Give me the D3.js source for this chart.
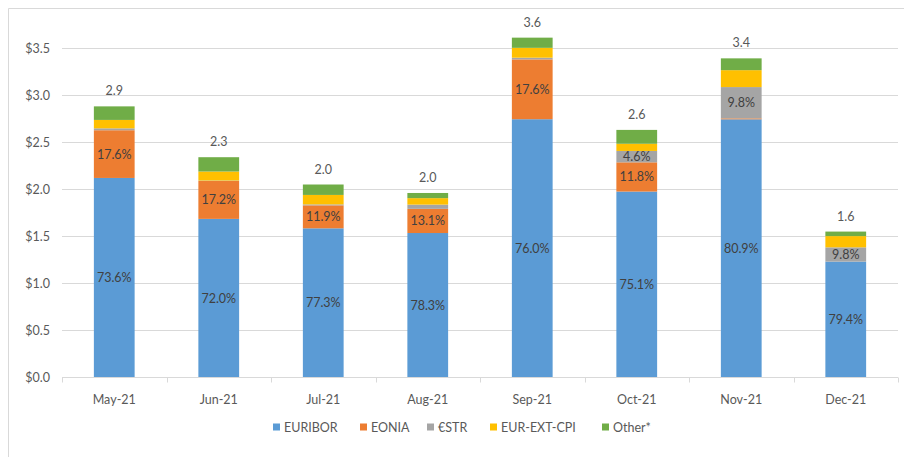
<!DOCTYPE html>
<html>
<head>
<meta charset="utf-8">
<script src="https://cdn.jsdelivr.net/npm/d3@7"></script>
<style>
  body { margin: 0; background: #fff; }
  svg text { font-family: Lato, "Open Sans", sans-serif; }
</style>
</head>
<body>
<svg id="chart" width="904" height="457"></svg>
<script>
// months on the x axis
var months = ["May-21", "Jun-21", "Jul-21", "Aug-21", "Sep-21", "Oct-21", "Nov-21", "Dec-21"];
// total notional per month ($)
var totals = [2.88, 2.34, 2.05, 1.96, 3.61, 2.63, 3.39, 1.55];
// share of each month's total, in %
var euribor = [73.6, 72.0, 77.3, 78.3, 76.0, 75.1, 80.9, 79.4];
var eonia   = [17.6, 17.2, 11.9, 13.1, 17.6, 11.8, 0.3, 0.0];
var estr    = [0.7, 0.2, 0.5, 2.3, 0.5, 4.6, 9.8, 9.8];
var cpi     = [3.1, 4.1, 4.9, 3.5, 2.9, 2.9, 5.3, 7.7];
var other   = [5.0, 6.5, 5.4, 2.8, 3.0, 5.6, 3.7, 3.1];
var seriesNames = ["EURIBOR", "EONIA", "€STR", "EUR-EXT-CPI", "Other*"];
var yTicks = [0, 0.5, 1.0, 1.5, 2.0, 2.5, 3.0, 3.5];

var shares = [euribor, eonia, estr, cpi, other];
var colors = ["#5B9BD5", "#ED7D31", "#A5A5A5", "#FFC000", "#70AD47"];
var labelled = [true, true, true, false, false];

var rows = months.map(function(m, i) {
  var r = { month: m, total: totals[i] };
  seriesNames.forEach(function(s, j) { r[s] = totals[i] * shares[j][i] / 100; });
  return r;
});

var margin = { top: 48, right: 6, bottom: 80, left: 62 };
var width = 904 - margin.left - margin.right,
    height = 457 - margin.top - margin.bottom;

var svg = d3.select("#chart");

// chart frame (only left/top edges are visible in the crop)
svg.append("path").attr("d", "M8.5,457V8.5H904").attr("fill", "none").attr("stroke", "#D9D9D9");

var g = svg.append("g").attr("transform", "translate(" + margin.left + "," + margin.top + ")");

var x = d3.scaleBand().domain(months).range([0, width]).paddingInner(0.61).paddingOuter(0.305);
var y = d3.scaleLinear().domain([0, 3.5]).range([height + 0.5, 0]);

// grid lines
g.append("g").selectAll("line").data(yTicks.slice(1)).enter().append("line")
  .attr("x1", 0).attr("x2", width)
  .attr("y1", function(d) { return Math.round(y(d)) + 0.5; })
  .attr("y2", function(d) { return Math.round(y(d)) + 0.5; })
  .attr("stroke", "#D9D9D9");

// y axis labels
var yAxis = d3.axisLeft(y).tickValues(yTicks).tickSize(0).tickPadding(12)
  .tickFormat(function(d) { return "$" + d3.format(".1f")(d); });
g.append("g").call(yAxis)
  .call(function(a) { a.select(".domain").remove(); })
  .selectAll("text").attr("fill", "#595959").style("font-size", "12.5px");

var stack = d3.stack().keys(seriesNames);
var layers = stack(rows);

var layer = g.selectAll("g.layer").data(layers).enter().append("g")
  .attr("class", "layer").attr("fill", function(d, i) { return colors[i]; });

layer.selectAll("rect").data(function(d) { return d; }).enter().append("rect")
  .attr("x", function(d) { return x(d.data.month); })
  .attr("width", x.bandwidth())
  .attr("y", function(d) { return y(d[1]); })
  .attr("height", function(d) { return Math.max(0, y(d[0]) - y(d[1])); });

// percent labels inside segments
layers.forEach(function(l, j) {
  if (!labelled[j]) return;
  g.append("g").selectAll("text").data(l.filter(function(d, i) { return shares[j][i] >= 4; }))
    .enter().append("text")
    .attr("x", function(d) { return x(d.data.month) + x.bandwidth() / 2; })
    .attr("y", function(d) { return (y(d[0]) + y(d[1])) / 2; })
    .attr("dy", "0.36em")
    .attr("text-anchor", "middle")
    .attr("fill", "#404040")
    .style("font-size", "12.5px")
    .text(function(d) { return d3.format(".1f")(d.data[l.key] / d.data.total * 100) + "%"; });
});

// totals above bars
g.append("g").selectAll("text").data(rows).enter().append("text")
  .attr("x", function(d) { return x(d.month) + x.bandwidth() / 2; })
  .attr("y", function(d) { return y(d.total) - 11; })
  .attr("text-anchor", "middle")
  .attr("fill", "#595959")
  .style("font-size", "12.5px")
  .text(function(d) { return d3.format(".1f")(d.total); });

// x axis
var xAxisG = g.append("g").attr("transform", "translate(0," + (Math.round(height) + 0.5) + ")");
xAxisG.append("line").attr("x1", 0).attr("x2", width).attr("stroke", "#D9D9D9");
xAxisG.selectAll("line.tick").data(d3.range(months.length + 1)).enter().append("line")
  .attr("class", "tick")
  .attr("x1", function(i) { return Math.round(i * x.step()) + 0.5; })
  .attr("x2", function(i) { return Math.round(i * x.step()) + 0.5; })
  .attr("y1", 0).attr("y2", 5).attr("stroke", "#D9D9D9");
xAxisG.selectAll("text").data(months).enter().append("text")
  .attr("x", function(d) { return x(d) + x.bandwidth() / 2; })
  .attr("y", 26)
  .attr("text-anchor", "middle")
  .attr("fill", "#595959")
  .style("font-size", "12.5px")
  .text(function(d) { return d; });

// legend
var legendX = [273, 360, 427, 490, 602];
var legend = svg.append("g").selectAll("g").data(seriesNames).enter().append("g")
  .attr("transform", function(d, i) { return "translate(" + legendX[i] + ",427)"; });
legend.append("rect").attr("x", 0).attr("y", -3.5).attr("width", 7).attr("height", 7)
  .attr("fill", function(d, i) { return colors[i]; });
legend.append("text").attr("x", 11).attr("dy", "0.36em")
  .attr("fill", "#595959").style("font-size", "12.5px")
  .text(function(d) { return d; });
</script>
</body>
</html>
